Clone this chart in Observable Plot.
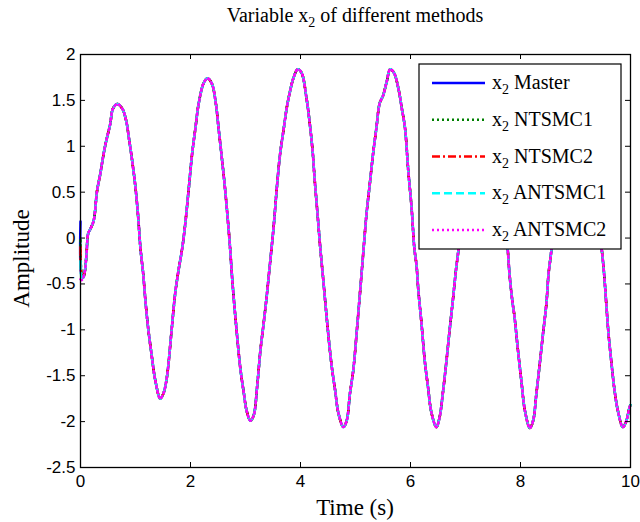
<!DOCTYPE html>
<html><head><meta charset="utf-8">
<script src="https://cdn.jsdelivr.net/npm/d3@7"></script>
<script src="https://cdn.jsdelivr.net/npm/@observablehq/plot@0.6"></script>
<style>body{margin:0;background:#fff}#chart{width:640px;height:522px}</style>
</head><body><div id="chart"></div>
<script>
// ---- data ----
const time = [0,0.02,0.05,0.08,0.11,0.14,0.18,0.24,0.30,0.36,0.39,0.44,0.48,0.54,0.59,0.67,0.76,0.83,0.88,0.94,
1.00,1.05,1.09,1.14,1.18,1.23,1.29,1.36,1.45,1.51,1.57,1.66,1.72,1.78,1.85,1.90,1.97,2.03,2.09,2.15,
2.24,2.31,2.39,2.46,2.51,2.57,2.62,2.67,2.72,2.76,2.81,2.86,2.91,2.97,3.02,3.09,3.15,3.21,3.27,3.33,
3.39,3.45,3.51,3.57,3.63,3.69,3.75,3.81,3.87,3.95,4.02,4.11,4.17,4.22,4.26,4.31,4.36,4.41,4.46,4.51,
4.57,4.63,4.69,4.78,4.84,4.90,4.96,5.02,5.08,5.14,5.20,5.26,5.32,5.38,5.44,5.50,5.57,5.63,5.70,5.78,
5.84,5.90,5.96,6.02,6.07,6.11,6.14,6.20,6.26,6.32,6.38,6.47,6.53,6.59,6.65,6.71,6.77,6.83,6.87,6.95,
7.05,7.15,7.25,7.33,7.42,7.50,7.60,7.70,7.77,7.80,7.85,7.89,7.95,8.02,8.08,8.17,8.23,8.29,8.35,8.41,
8.47,8.51,8.56,8.65,8.75,8.85,8.95,9.02,9.10,9.20,9.30,9.40,9.48,9.52,9.56,9.60,9.65,9.71,9.77,9.86,
9.92,9.98,10.0];
const master = [0.18,-0.41,-0.43,-0.36,-0.17,0.05,0.10,0.19,0.51,0.70,0.81,0.98,1.09,1.24,1.41,1.46,1.41,1.28,1.09,0.84,
0.55,0.22,-0.11,-0.39,-0.68,-0.98,-1.26,-1.55,-1.75,-1.69,-1.52,-0.98,-0.61,-0.36,-0.11,0.13,0.55,0.92,1.20,1.47,
1.69,1.74,1.68,1.47,1.20,0.87,0.59,0.26,-0.11,-0.46,-0.82,-1.15,-1.44,-1.69,-1.88,-1.99,-1.93,-1.63,-1.23,-0.93,
-0.61,-0.25,0.11,0.55,0.92,1.17,1.42,1.60,1.74,1.84,1.80,1.52,1.24,0.95,0.62,0.26,-0.11,-0.43,-0.76,-1.08,
-1.41,-1.66,-1.91,-2.06,-1.99,-1.69,-1.44,-1.04,-0.61,-0.17,0.26,0.59,0.92,1.20,1.47,1.55,1.71,1.84,1.80,1.63,
1.42,1.20,0.73,0.33,-0.11,-0.30,-0.55,-0.93,-1.34,-1.63,-1.90,-2.06,-1.95,-1.68,-1.36,-1.01,-0.68,-0.33,-0.14,0.40,
1.00,1.50,1.78,1.85,1.75,1.45,0.90,0.30,-0.14,-0.39,-0.68,-0.85,-1.20,-1.58,-1.88,-2.07,-1.99,-1.69,-1.37,-1.04,
-0.72,-0.39,-0.14,0.50,1.20,1.65,1.83,1.86,1.75,1.35,0.80,0.25,-0.14,-0.39,-0.72,-1.04,-1.34,-1.66,-1.88,-2.06,
-2.00,-1.85,-1.82];
// initial transients of the slave systems (first samples), afterwards they follow the master
const ntsmc1Head = [-0.02,-0.38];
const ntsmc2Head = [-0.10,-0.40];
const antsmc1Head = [-0.25,-0.42];
const antsmc2Head = [-0.45,-0.46];
const seriesNames = ["Master","NTSMC1","NTSMC2","ANTSMC1","ANTSMC2"];
const xTicks = [0,2,4,6,8,10];
const yTicks = [-2.5,-2,-1.5,-1,-0.5,0,0.5,1,1.5,2];
const titleText = ["Variable x","2"," of different methods"];
const xLabel = "Time (s)";
const yLabel = "Amplitude";

// ---- styling ----
const colors = ["#0000ff","#008000","#ff0000","#00ffff","#ff00ff"];
const dashes = [null,"2,3","8,3,2,3","8,4","2,3"];
const serif = "'Liberation Serif','Times New Roman',serif";
const W = 640, H = 522, mL = 80, mR = 10, mT = 54, mB = 55;
const plotW = W - mL - mR, plotH = H - mT - mB;

const withHead = (head) => master.map((v,i) => i < head.length ? head[i] : v);
const values = [master, withHead(ntsmc1Head), withHead(ntsmc2Head), withHead(antsmc1Head), withHead(antsmc2Head)];
const lineMarks = values.map((vals,k) => Plot.line(time.map((t,j) => ({t, v: vals[j]})), {
  x: "t", y: "v", stroke: colors[k], strokeWidth: 2.5, strokeDasharray: dashes[k], curve: "catmull-rom"
}));

const chart = Plot.plot({
  width: W, height: H, marginLeft: mL, marginRight: mR, marginTop: mT, marginBottom: mB,
  style: {background: "#fff", color: "#000", fontFamily: "'Liberation Sans',Arial,sans-serif", fontSize: "17px", overflow: "visible"},
  x: {domain: [0,10]},
  y: {domain: [-2.5,2]},
  marks: [
    ...lineMarks,
    Plot.tickX(xTicks, {x: d => d, insetTop: plotH - 5, stroke: "#000"}),
    Plot.tickX(xTicks, {x: d => d, insetBottom: plotH - 5, stroke: "#000"}),
    Plot.tickY(yTicks, {y: d => d, insetRight: plotW - 5, stroke: "#000"}),
    Plot.tickY(yTicks, {y: d => d, insetLeft: plotW - 5, stroke: "#000"}),
    Plot.axisX(xTicks, {anchor: "bottom", tickSize: 0, tickPadding: 7, label: null, tickFormat: d => String(d)}),
    Plot.axisY(yTicks, {anchor: "left", tickSize: 0, tickPadding: 5, label: null, tickFormat: d => String(d)}),
    Plot.frame({stroke: "#000", strokeWidth: 1.3})
  ]
});
document.getElementById("chart").appendChild(chart);

const svg = d3.select(chart);
const cx = mL + plotW / 2;
// title
const tt = svg.append("text").attr("x", cx).attr("y", 22).attr("text-anchor", "middle")
  .attr("font-family", serif).attr("font-size", 20).attr("fill", "#000");
tt.append("tspan").text(titleText[0]);
tt.append("tspan").attr("dy", 5).attr("font-size", 14).text(titleText[1]);
tt.append("tspan").attr("dy", -5).text(titleText[2]);
// axis labels
svg.append("text").attr("x", cx).attr("y", 515).attr("text-anchor", "middle")
  .attr("font-family", serif).attr("font-size", 23).attr("fill", "#000").text(xLabel);
svg.append("text").attr("transform", `translate(29,${mT + plotH/2 - 2}) rotate(-90)`).attr("text-anchor", "middle")
  .attr("font-family", serif).attr("font-size", 23).attr("fill", "#000").text(yLabel);

// legend
const lgW = 202, lgH = 185, rowH = 36.75;
const lx0 = W - mR - 9 - lgW, ly0 = mT + 10;
const lg = svg.append("g");
lg.append("rect").attr("x", lx0).attr("y", ly0).attr("width", lgW).attr("height", lgH)
  .attr("fill", "#fff").attr("stroke", "#000").attr("stroke-width", 1.2);
seriesNames.forEach((name, k) => {
  const ry = ly0 + 19 + k * rowH;
  const ln = lg.append("line").attr("x1", lx0 + 13).attr("x2", lx0 + 66).attr("y1", ry).attr("y2", ry)
    .attr("stroke", colors[k]).attr("stroke-width", 2.5);
  if (dashes[k]) ln.attr("stroke-dasharray", dashes[k]);
  const tx = lg.append("text").attr("x", lx0 + 73).attr("y", ry + 6).attr("text-anchor", "start")
    .attr("font-family", serif).attr("font-size", 20).attr("fill", "#000");
  tx.append("tspan").text("x");
  tx.append("tspan").attr("dy", 5).attr("font-size", 14).text("2");
  tx.append("tspan").attr("dy", -5).text(" " + name);
});
</script>
</body></html>
